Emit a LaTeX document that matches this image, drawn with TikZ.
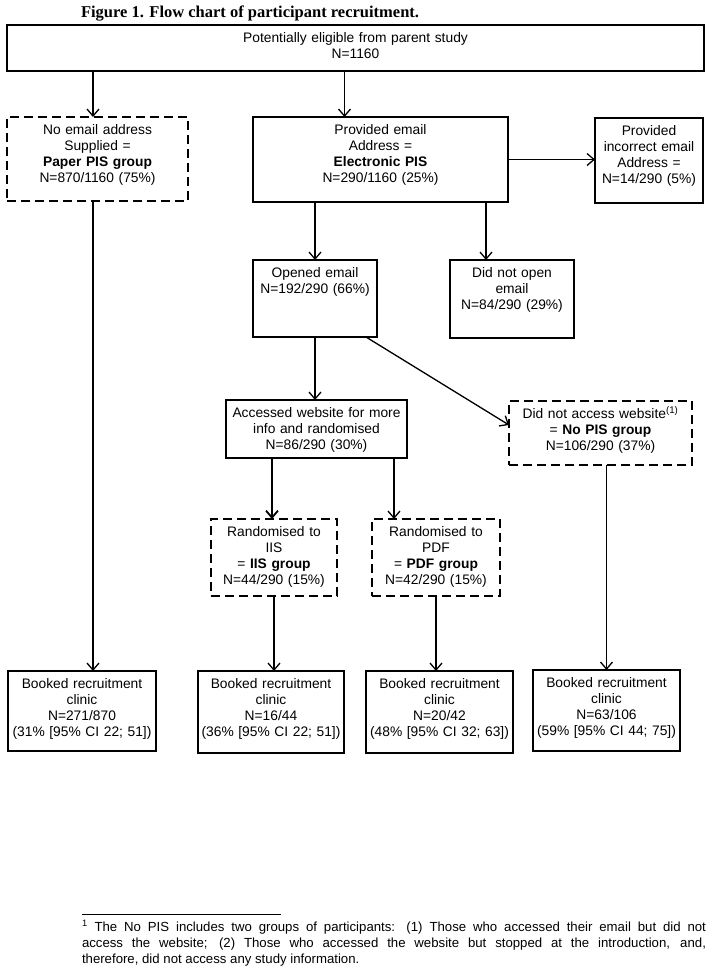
\documentclass[tikz,border=0pt]{standalone}
\usepackage{fontspec}
\setmainfont{Liberation Sans}
\newfontfamily\titlefont{Liberation Serif}
\usetikzlibrary{arrows.meta}
\begin{document}
\begin{tikzpicture}[
		x=1pt, y=-1pt,
		every node/.style={align=center, inner sep=0pt, outer sep=0pt, anchor=north west, text height=17.5pt, font=\fontsize{13.8}{16}\selectfont},
		box/.style={draw, line width=1.3pt},
		thickbox/.style={draw, line width=1.9pt},
		group/.style={draw, line width=2.8pt, dash pattern=on 9pt off 5pt},
		arr/.style={-{Straight Barb[length=7pt, width=12pt]}, line width=1.3pt},
		thickarr/.style={arr, line width=1.8pt}
		]
		
		\useasboundingbox (0,0) rectangle (714,978);
		
		\node[anchor=base west, text height=, font=\titlefont\bfseries\fontsize{16.5}{18}\selectfont] (title) at (81,17) {Figure 1. Flow chart of participant recruitment.};
		
		\node[box, text width=697pt, text depth=28.5pt] (top) at (7,25) {Potentially eligible from parent study\\N=1160};
		\node[group, text width=181pt, text depth=66.5pt] (noemail) at (7,117) {No email address\\Supplied =\\\textbf{Paper PIS group}\\N=870/1160 (75\%)};
		\node[thickbox, text width=255pt, text depth=67.5pt] (provided) at (253,117) {Provided email\\Address =\\\textbf{Electronic PIS}\\N=290/1160 (25\%)};
		\node[box, text width=108pt, text depth=67.5pt] (incorrect) at (595,118) {Provided\\incorrect email\\Address =\\N=14/290 (5\%)};
		\node[box, text width=124pt, text depth=59.5pt] (opened) at (253,260) {Opened email\\N=192/290 (66\%)};
		\node[box, text width=124pt, text depth=60.5pt] (notopen) at (450,260) {Did not open\\email\\N=84/290 (29\%)};
		\node[box, text width=181pt, text depth=40.5pt] (accessed) at (226,400) {Accessed website for more\\info and randomised\\N=86/290 (30\%)};
		\node[group, text width=183pt, text depth=46.5pt] (nopis) at (509,401) {Did not access website\textsuperscript{(1)}\\= \textbf{No PIS group}\\N=106/290 (37\%)};
		\node[group, text width=126pt, text depth=59.5pt] (iis) at (211,519) {Randomised to\\IIS\\= \textbf{IIS group}\\N=44/290 (15\%)};
		\node[group, text width=128pt, text depth=59.5pt] (pdf) at (372,519) {Randomised to\\PDF\\= \textbf{PDF group}\\N=42/290 (15\%)};
		\node[box, text width=148pt, text depth=62.5pt] (bpaper) at (8,671) {Booked recruitment\\clinic\\N=271/870\\(31\% [95\% CI 22; 51])};
		\node[thickbox, text width=146pt, text depth=64.5pt] (biis) at (198,671) {Booked recruitment\\clinic\\N=16/44\\(36\% [95\% CI 22; 51])};
		\node[thickbox, text width=147pt, text depth=64.5pt] (bpdf) at (366,671) {Booked recruitment\\clinic\\N=20/42\\(48\% [95\% CI 32; 63])};
		\node[box, text width=147pt, text depth=63.5pt] (bnopis) at (533,670) {Booked recruitment\\clinic\\N=63/106\\(59\% [95\% CI 44; 75])};
		
		\draw[arr] ([xshift=-4.5pt]noemail.north |- top.south) -- ([xshift=-4.5pt]noemail.north);
		\draw[arr] ([xshift=-36pt]provided.north |- top.south) -- ([xshift=-36pt]provided.north);
		\draw[arr] (provided.east) -- (provided.east -| incorrect.west);
		\draw[arr] ([xshift=-4.5pt]noemail.south) -- ([xshift=-4.5pt]noemail.south |- bpaper.north);
		\draw[arr] (opened.north |- provided.south) -- (opened.north);
		\draw[arr] ([xshift=-26pt]notopen.north |- provided.south) -- ([xshift=-26pt]notopen.north);
		\draw[arr] (opened.south) -- (opened.south |- accessed.north);
		\draw[arr] ([xshift=-11pt]opened.south east) -- ([yshift=8pt]nopis.west);
		\draw[thickarr] ([xshift=-2pt]iis.north |- accessed.south) -- ([xshift=-2pt]iis.north);
		\draw[arr] ([xshift=-42pt]pdf.north |- accessed.south) -- ([xshift=-42pt]pdf.north);
		\draw[arr] (iis.south) -- (iis.south |- biis.north);
		\draw[arr] (pdf.south) -- (pdf.south |- bpdf.north);
		\draw[arr] (bnopis.north |- nopis.south) -- (bnopis.north);
		
		\draw[line width=0.9pt] (82,914) -- (281,914);
		\node[align=justify, text width=624pt, text height=12pt, font=\fontsize{13.2}{16}\selectfont] (note) at (82,919) {\textsuperscript{1} The No PIS includes two groups of participants: (1) Those who accessed their email but did not\linebreak access the website; (2) Those who accessed the website but stopped at the introduction, and,\linebreak therefore, did not access any study information.};
		
	\end{tikzpicture}
\end{document}
